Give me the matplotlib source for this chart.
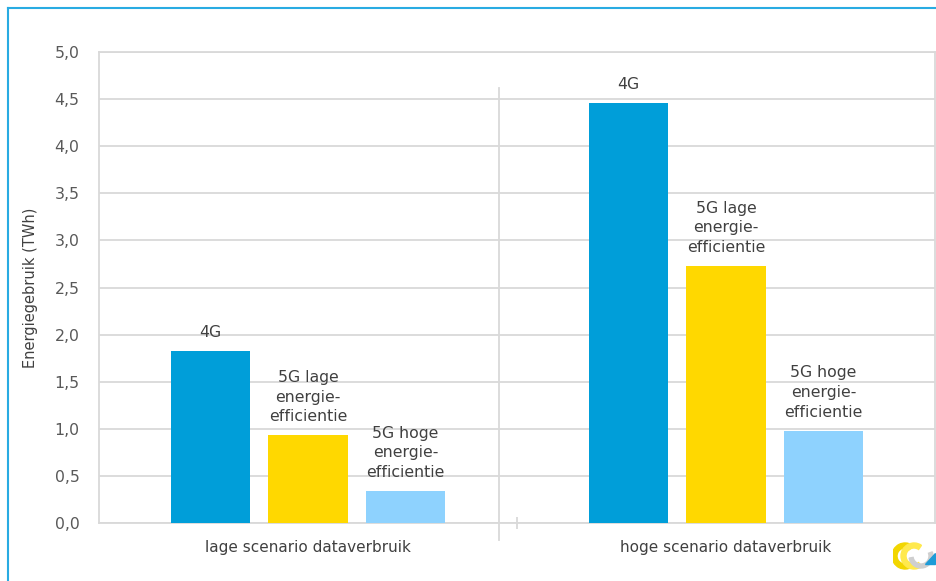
import numpy as np
import matplotlib
matplotlib.use("Agg")
import matplotlib.pyplot as plt
from matplotlib.ticker import FuncFormatter, MultipleLocator
from matplotlib.patches import Wedge, Polygon
from matplotlib.lines import Line2D

# energieverbruik per scenario (TWh)
scenarios = ["lage scenario dataverbruik", "hoge scenario dataverbruik"]
series = ["4G", "5G lage\nenergie-\nefficientie", "5G hoge\nenergie-\nefficientie"]
val_4g = [1.83, 4.46]
val_5g_laag = [0.93, 2.73]
val_5g_hoog = [0.34, 0.98]
colors = ["#009ED9", "#FFD800", "#8ED2FE"]

TXT = "#404040"
GRID = "#D9D9D9"

plt.rcParams["font.family"] = ["DejaVu Sans"]

fig = plt.figure(figsize=(9.37, 5.81), dpi=100)
ax = fig.add_axes([99 / 937, 1 - 523 / 581, 836 / 937, 471 / 581])

x = np.arange(len(scenarios))
width = 0.19
step = 0.233
for i, (vals, col, lab) in enumerate(zip([val_4g, val_5g_laag, val_5g_hoog], colors, series)):
    pos = x + (i - 1) * step
    bars = ax.bar(pos, vals, width, color=col, zorder=3)
    for b in bars:
        ax.annotate(lab, (b.get_x() + b.get_width() / 2, b.get_height()),
                    xytext=(0, 8), textcoords="offset points",
                    ha="center", va="bottom", fontsize=11.3, color=TXT,
                    linespacing=1.38, zorder=4)

ax.set_xlim(-0.5, 1.5)
ax.set_ylim(0, 5)
ax.yaxis.set_major_locator(MultipleLocator(0.5))
ax.yaxis.set_major_formatter(FuncFormatter(lambda v, p: f"{v:.1f}".replace(".", ",")))
ax.grid(axis="y", color=GRID, lw=1.3, zorder=0)
ax.tick_params(axis="y", length=0, pad=14, labelsize=11.3, labelcolor="#595959")
ax.set_xticks(x)
ax.set_xticklabels(scenarios, fontsize=11, color=TXT)
ax.tick_params(axis="x", length=0, pad=12)
ax.set_xticks([0.5], minor=True)
ax.tick_params(axis="x", which="minor", direction="inout", length=9, width=1.3, color=GRID)
for s in ax.spines.values():
    s.set_color(GRID)
    s.set_linewidth(1.3)
ax.set_ylabel("Energiegebruik (TWh)", fontsize=10.5, color=TXT, labelpad=12)

# scheidingslijn tussen de twee scenario's
ax.add_line(Line2D([0.478, 0.478], [0.924, -0.036], transform=ax.transAxes,
                   color=GRID, lw=1.3, clip_on=False, zorder=2))

# kader rond de figuur
frame = "#29ABE2"
fig.add_artist(Line2D([8 / 937, 8 / 937], [0, 1 - 8 / 581], color=frame, lw=1.5))
fig.add_artist(Line2D([8 / 937, 1], [1 - 8 / 581, 1 - 8 / 581], color=frame, lw=1.5))

# logo rechtsonder
lax = fig.add_axes([893 / 937, 1 - 574 / 581, 44 / 937, 38 / 581])
lax.set_xlim(0, 44)
lax.set_ylim(0, 38)
lax.set_aspect("equal")
lax.axis("off")
lax.add_patch(Wedge((12, 18), 13, 55, 305, width=5, color="#F2D600"))
lax.add_patch(Wedge((21, 18), 13, 55, 305, width=5, color="#FFE94D"))
lax.add_patch(Wedge((28, 18), 12, 190, 20, width=4, color="#CFCFCF"))
lax.add_patch(Polygon([[32, 10], [42, 10], [42, 21]], color="#1E9BD7"))

fig.savefig("out.png", dpi=100)
